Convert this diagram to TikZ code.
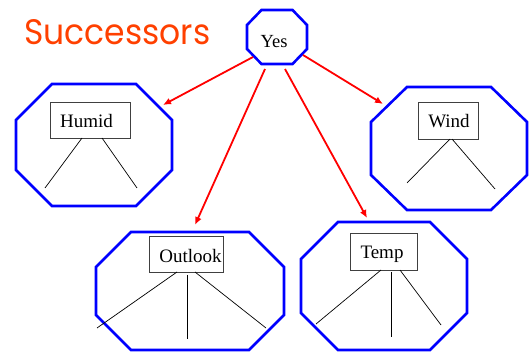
\documentclass[tikz,border=0pt]{standalone}
\usepackage{fontspec}
\usepackage{graphicx}
\setmainfont{Liberation Serif}
\newfontfamily\titlefont{Poppins}
\usetikzlibrary{arrows.meta}
\definecolor{titlered}{RGB}{255,64,0}
\definecolor{octblue}{RGB}{0,0,255}

% octagon from its bounding box and corner cut: {x1}{y1}{x2}{y2}{cut x}{cut y}
\newcommand{\statepath}[6]{%
  (#1+#5,#2) -- (#3-#5,#2) -- (#3,#2+#6) -- (#3,#4-#6) --
  (#3-#5,#4) -- (#1+#5,#4) -- (#1,#4-#6) -- (#1,#2+#6) -- cycle}

\begin{document}
\begin{tikzpicture}[x=1pt,y=-1pt,
  octa/.style={draw=octblue, line width=2.6pt, line join=miter},
  attrbox/.style={draw=black!75, line width=0.8pt, rectangle, inner sep=0pt},
  lbl/.style={anchor=base, inner sep=0pt, font=\fontsize{19}{22}\selectfont},
  branch/.style={draw=black, line width=0.7pt},
  succ/.style={draw=red, line width=1.8pt, -{Latex[length=8pt,width=7pt]}}]
\useasboundingbox (0,0) rectangle (532,352);

% title
\node[anchor=base west, inner sep=0pt, text=titlered] (title) at (24,45)
  {\resizebox{186pt}{25pt}{\titlefont Successors}};

% state octagons
\draw[octa] \statepath{247}{10}{307}{64}{14.5}{15};
\draw[octa] \statepath{16}{84}{172}{206}{36}{36};
\draw[octa] \statepath{371}{87}{527}{210}{36}{35};
\draw[octa] \statepath{96}{232}{284}{350}{35}{35};
\draw[octa] \statepath{301}{222}{467}{350}{37}{37};

% root label
\node[lbl, font=\fontsize{18.5}{22}\selectfont] (yes) at (274,47.5) {Yes};

% attribute boxes
\node[attrbox, minimum width=80pt, minimum height=36pt] (humid) at (90,120) {};
\node[lbl] (humidtxt) at (86.5,128) {Humid};
\node[attrbox, minimum width=60pt, minimum height=37pt] (wind) at (448,120.5) {};
\node[lbl] (windtxt) at (449,128) {Wind};
\node[attrbox, minimum width=74pt, minimum height=36pt] (outlook) at (186,254) {};
\node[lbl] (outlooktxt) at (190.5,262) {Outlook};
\node[attrbox, minimum width=67pt, minimum height=37pt] (temp) at (383.5,251.5) {};
\node[lbl] (temptxt) at (382,259) {Temp};

% branch ends
\coordinate (h1) at (45,188);  \coordinate (h2) at (137,188);
\coordinate (w1) at (407,183); \coordinate (w2) at (495,189);
\coordinate (o1) at (97,328);  \coordinate (o2) at (187,339); \coordinate (o3) at (266,328);
\coordinate (t1) at (316,324); \coordinate (t2) at (391,337); \coordinate (t3) at (441,325);

\draw[branch] (82,138) -- (h1);
\draw[branch] (102,138) -- (h2);
\draw[branch] (450,139) -- (w1);
\draw[branch] (452,139) -- (w2);
\draw[branch] (177,272) -- (o1);
\draw[branch] (187,275) -- (o2);
\draw[branch] (195,272) -- (o3);
\draw[branch] (381,270) -- (t1);
\draw[branch] (391,272) -- (t2);
\draw[branch] (400,270) -- (t3);

% successor arrows
\coordinate (s1) at (253,57);  \coordinate (e1) at (163,105);
\coordinate (s2) at (303,55);  \coordinate (e2) at (383,104);
\coordinate (s3) at (265,69);  \coordinate (e3) at (195,225);
\coordinate (s4) at (285,69);  \coordinate (e4) at (367,218);
\draw[succ] (s1) -- (e1);
\draw[succ] (s2) -- (e2);
\draw[succ] (s3) -- (e3);
\draw[succ] (s4) -- (e4);
\end{tikzpicture}
\end{document}
